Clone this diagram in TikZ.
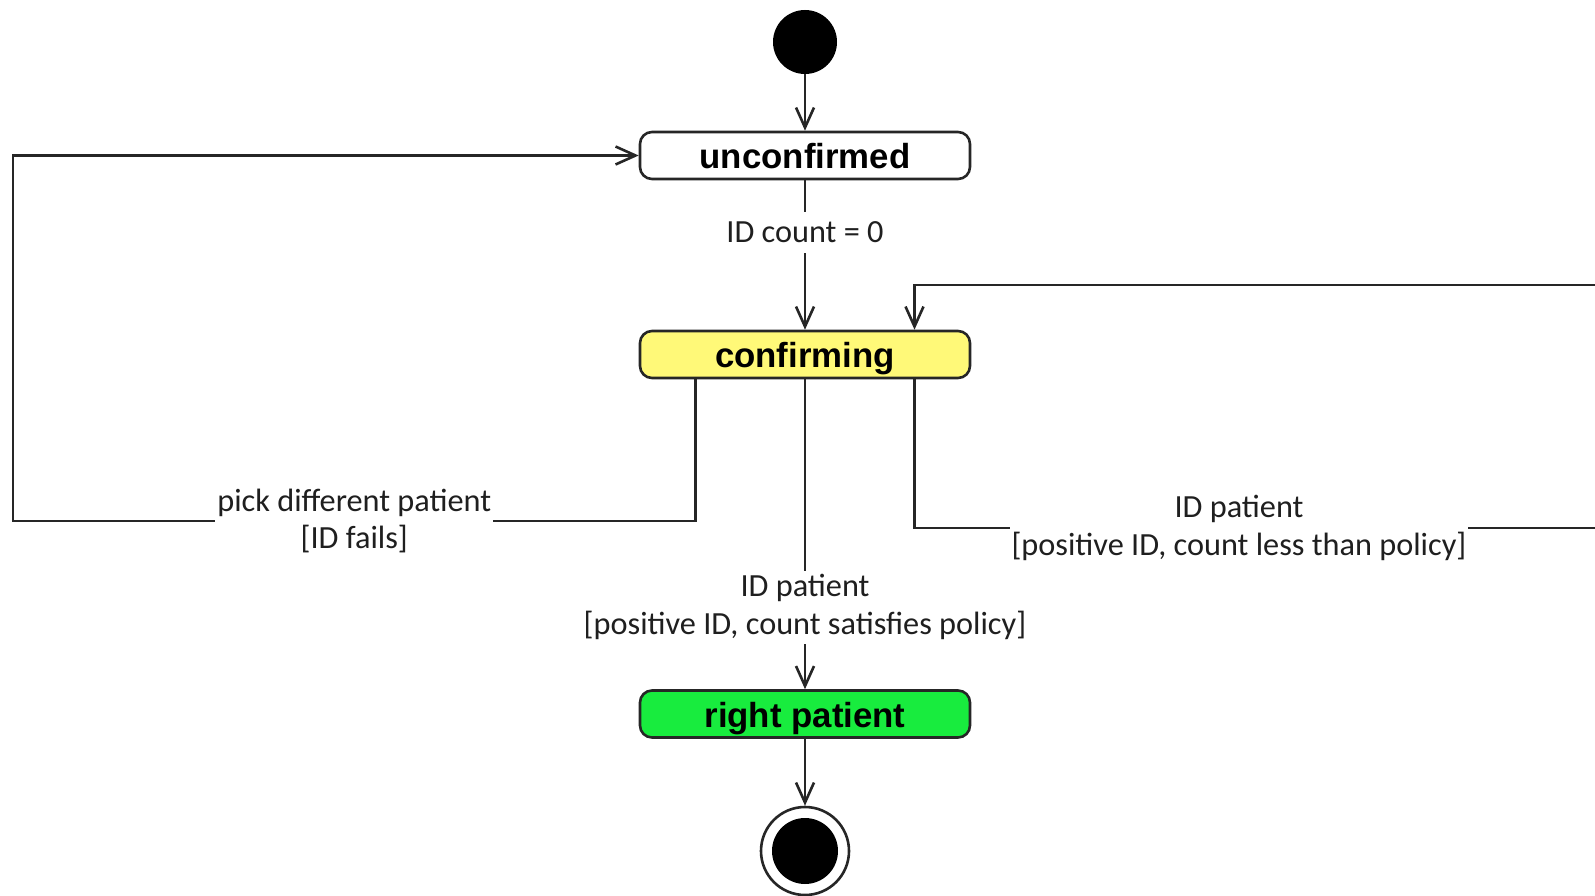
\documentclass[tikz,border=0pt]{standalone}
\usepackage{fontspec}
\setmainfont{Carlito}
\newfontfamily\boxfont{Liberation Sans}
\usetikzlibrary{arrows.meta}
\definecolor{edge}{HTML}{262626}
\definecolor{confirmfill}{HTML}{FFF978}
\definecolor{rightfill}{HTML}{18EC3E}
\begin{document}
\begin{tikzpicture}[x=1pt,y=-1pt,
  state/.style={draw=edge, line width=2.6pt, rounded corners=12pt,
    minimum width=330pt, minimum height=47pt, inner sep=0pt,
    text height=26.8pt, text depth=0pt,
    font=\boxfont\bfseries\fontsize{34.8}{40}\selectfont},
  trans/.style={draw=edge, line width=2.6pt,
    -{Straight Barb[length=20pt,width=18pt]}},
  guard/.style={fill=white, align=center, inner xsep=2pt, inner ysep=4pt,
    text=black!88, font=\fontsize{32.3}{37.6}\selectfont},
]
\useasboundingbox (0,0) rectangle (1595,896);
\clip (0,0) rectangle (1595,896);

% states
\node[circle, fill=black, minimum size=64pt, inner sep=0pt] (init) at (805,42) {};
\node[state] (unconf) at (805,155.5) {unconfirmed};
\node[state, fill=confirmfill] (conf) at (805,354.5) {confirming};
\node[state, fill=rightfill] (rightp) at (805,714) {right patient};
\node[circle, draw=edge, line width=2.6pt, fill=white, minimum size=88pt, inner sep=0pt] (final) at (805,851) {};
\fill[black] (final.center) circle[radius=33pt];

% corners of the two loops
\coordinate (lcorner) at (13,521);
\coordinate (rcorner) at (1650,528);
\coordinate (rtop) at (1650,285);

% transitions
\draw[trans] (init) -- (unconf);
\draw[trans] (unconf) -- node[guard, pos=0.35, inner ysep=10pt] {ID count = 0} (conf);
\draw[trans] ([xshift=-109.5pt]conf.south) |- node[guard, pos=0.75] {pick different patient\\{[}ID fails]} (lcorner) |- (unconf.west);
\draw[trans] (conf) -- node[guard, pos=0.735] {ID patient\\{[}positive ID, count satisfies policy]} (rightp);
\draw[trans] ([xshift=109.5pt]conf.south) |- node[guard, pos=0.7206] {ID patient\\{[}positive ID, count less than policy]} (rcorner) -- (rtop) -| ([xshift=109.5pt]conf.north);
\draw[trans] (rightp) -- (final);
\end{tikzpicture}
\end{document}
